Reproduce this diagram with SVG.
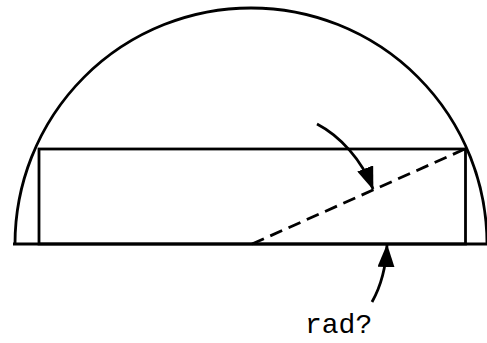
<svg xmlns="http://www.w3.org/2000/svg" width="487" height="343" viewBox="0 0 487 343">
<style>
.ln{fill:none;stroke:#000;stroke-width:2.8}
.ds{fill:none;stroke:#000;stroke-width:2.8;stroke-dasharray:13 7}
.lbl{font-family:"Liberation Mono","Courier New",monospace;font-size:28px;fill:#000}
</style>
<defs>
<marker id="ah" viewBox="0 0 23 17" markerWidth="23" markerHeight="17" refX="22" refY="8.5" orient="auto" markerUnits="userSpaceOnUse">
<path d="M0,0 L23,8.5 L0,17 z" fill="#000"/>
</marker>
</defs>
<g id="dome">
<path class="ln" d="M15,244 A236,236 0 0 1 487,244"/>
<line class="ln" x1="13" y1="244" x2="487" y2="244"/>
</g>
<g id="rect">
<rect class="ln" x="39" y="149" width="426.5" height="95"/>
</g>
<g id="diag">
<line class="ds" x1="252" y1="244" x2="465" y2="149"/>
</g>
<g id="connectors">
<path class="ln" d="M317,124 C340,136 362,160 373,189" marker-end="url(#ah)"/>
<path class="ln" d="M372,302 C381,286 386,268 387,245" marker-end="url(#ah)"/>
</g>
<g id="label">
<text class="lbl" x="305" y="333">rad?</text>
</g>
</svg>
